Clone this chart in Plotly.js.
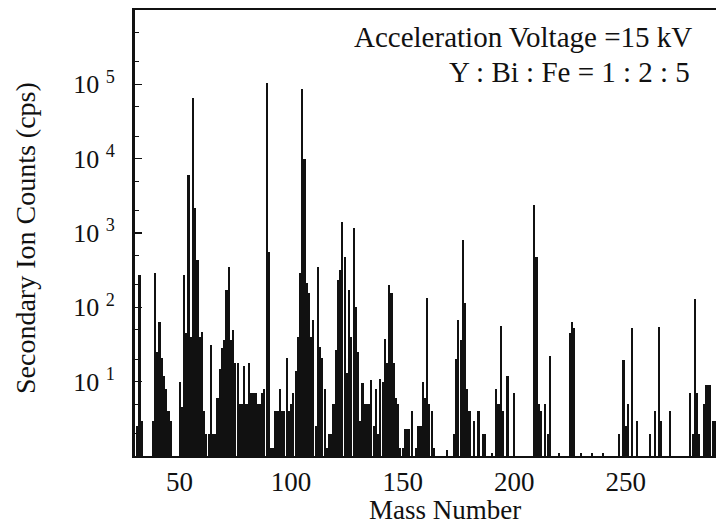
<!DOCTYPE html>
<html>
<head>
<meta charset="utf-8">
<script src="https://cdn.plot.ly/plotly-3.0.1.min.js"></script>
<style>html,body{margin:0;padding:0;background:#fff;}#chart{width:716px;height:525px;}</style>
</head>
<body>
<div id="chart"></div>
<script>
// Mass numbers (peak positions) and secondary ion counts (cps)
const massNumbers = [
  31, 32, 33, 38, 39, 40, 41, 42, 43, 44, 45, 46,
  50, 51, 52, 53, 54, 55, 56, 57, 58, 59, 60, 61, 62, 63, 64, 65, 66, 67, 68, 69, 70,
  71, 72, 73, 74, 75, 76, 77, 78, 79, 80, 81, 82, 83, 84, 85, 86, 87, 88, 89, 90,
  91, 92, 93, 94, 95, 96, 97, 98, 99, 100, 101, 102, 103, 104, 105, 106, 107, 108, 109, 110,
  111, 112, 113, 114, 115, 116, 117, 118, 119, 120, 121, 122, 123, 124, 125, 126, 127, 128, 129, 130,
  131, 132, 133, 134, 135, 136, 137, 138, 139, 140, 141, 142, 143, 144, 145, 146, 147, 148, 149, 150,
  151, 152, 153, 154, 156, 157, 158, 159, 160, 161, 162, 163, 164, 170,
  173, 174, 175, 176, 177, 178, 179, 180, 182, 184, 186, 187, 190,
  192, 193, 194, 195, 197, 200, 209, 210, 211, 212, 214, 215, 216, 220,
  225, 226, 227, 230, 235, 240, 247, 249, 250, 251, 253, 255,
  261, 263, 265, 266, 270, 279, 280, 281, 282, 283, 285, 286, 287, 288, 289, 290
];
const ionCounts = [
  2.5, 270, 3, 3, 290, 25, 63, 21, 12, 8, 4, 3,
  10, 4.5, 270, 45, 6000, 40, 66000, 2200, 440, 40, 46, 4, 2, 2, 31, 2, 2, 6, 15, 28, 36,
  170, 350, 36, 49, 18, 18, 5, 5, 16, 5, 18, 7, 7, 7, 5, 5, 7, 8, 105000, 560,
  1.3, 1.3, 4, 4, 8, 4, 4, 21, 4, 5, 7, 14, 40, 290, 87000, 10000, 210, 155, 40, 67,
  2.5, 350, 29, 21, 8, 1.3, 2, 2, 5, 27, 230, 320, 1400, 480, 13, 170, 40, 1170, 100, 25,
  3, 9.6, 5, 5, 5, 10.5, 2.5, 8, 2, 11, 10, 38, 18, 200, 155, 18, 6, 5, 1.3, 1.3,
  2.3, 2.3, 2.3, 4, 1.3, 2.5, 2.5, 10, 6, 133, 5, 4, 1.3, 1.2,
  2, 20, 67, 36, 800, 113, 8, 4, 3, 4, 2, 2, 1.1,
  8, 5, 56, 4, 12, 7, 2400, 480, 5, 4, 5, 2, 22, 1.1,
  45, 63, 52, 1.1, 1.1, 1.1, 2, 19.5, 2.5, 5, 52, 3,
  2, 4, 54, 3, 4, 7, 2, 130, 7, 2, 5, 9, 9, 9, 3, 3
];
const xTickVals = [50, 100, 150, 200, 250];
const xTickText = ['50', '100', '150', '200', '250'];
const yTickVals = [10, 100, 1000, 10000, 100000];
const yTickText = ['10 <sup>1</sup>', '10 <sup>2</sup>', '10 <sup>3</sup>', '10 <sup>4</sup>', '10 <sup>5</sup>'];
const noteLines = ['Acceleration Voltage =15 kV', 'Y : Bi : Fe = 1 : 2 : 5'];
const xTitle = 'Mass Number';
const yTitle = 'Secondary Ion Counts (cps)';

const serif = 'Liberation Serif, Times New Roman, serif';
const ink = '#111111';

const trace = {
  type: 'bar',
  x: massNumbers,
  y: ionCounts,
  width: 0.95,
  marker: {color: ink, line: {width: 0}},
  hoverinfo: 'x+y'
};

// pixel helpers for text placement only (plot area: x 135..716, y 10..456)
const px = x => (x - 135) / 581;
const py = y => (456 - y) / 446;

const layout = {
  width: 716, height: 525,
  margin: {l: 135, r: 0, t: 10, b: 69},
  paper_bgcolor: '#ffffff', plot_bgcolor: '#ffffff',
  showlegend: false,
  bargap: 0,
  font: {family: serif, color: ink},
  xaxis: {
    range: [30, 290.5],
    tickvals: xTickVals, ticktext: xTickText,
    ticks: '', showgrid: false, zeroline: false,
    showline: true, mirror: true, linecolor: ink, linewidth: 2,
    tickfont: {family: serif, size: 27, color: ink},
    ticklabelstandoff: 1
  },
  yaxis: {
    type: 'log', range: [0, 6],
    tickvals: yTickVals, ticktext: yTickText,
    ticks: 'inside', ticklen: 7, tickwidth: 1.5, tickcolor: ink,
    minor: {dtick: 'D2', ticks: 'inside', ticklen: 4, tickwidth: 1, tickcolor: ink, showgrid: false},
    showgrid: false, zeroline: false,
    showline: true, mirror: false, linecolor: ink, linewidth: 3,
    tickfont: {family: serif, size: 26, color: ink},
    ticklabelstandoff: 12
  },
  annotations: [
    {xref: 'paper', yref: 'paper', x: px(26), y: py(238),
     text: yTitle, textangle: -90, showarrow: false,
     xanchor: 'center', yanchor: 'middle', font: {family: serif, size: 28, color: ink}},
    {xref: 'paper', yref: 'paper', x: px(445), y: py(510),
     text: xTitle, showarrow: false,
     xanchor: 'center', yanchor: 'middle', font: {family: serif, size: 27, color: ink}},
    {xref: 'paper', yref: 'paper', x: px(694), y: py(37),
     text: noteLines[0], showarrow: false, xanchor: 'right', yanchor: 'middle',
     font: {family: serif, size: 29, color: ink}},
    {xref: 'paper', yref: 'paper', x: px(692), y: py(72),
     text: noteLines[1], showarrow: false, xanchor: 'right', yanchor: 'middle',
     font: {family: serif, size: 29, color: ink}}
  ]
};

Plotly.newPlot('chart', [trace], layout, {displayModeBar: false, staticPlot: true});
</script>
</body>
</html>
